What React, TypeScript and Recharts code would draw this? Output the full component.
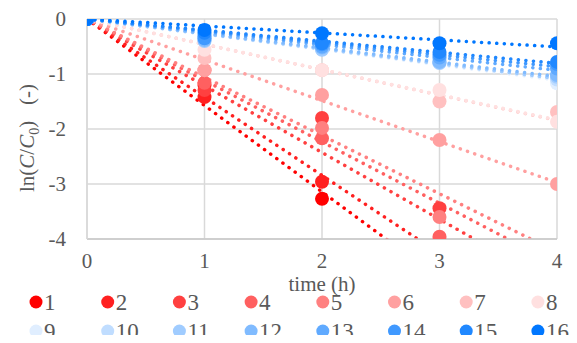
import { CartesianGrid, Legend, Line, LineChart, XAxis, YAxis, Label } from "recharts";

const TIMES = [0, 1, 2, 3, 4];

const S1 = [0, -1.2, -3.27, -4.6, -6.4];
const S2 = [0, -1.42, -2.96, -4.3, -5.6];
const S3 = [0, -1.29, -1.8, -3.44, -5.3];
const S4 = [0, -1.16, -2.17, -3.96, -4.03];
const S5 = [0, -0.93, -1.98, -3.6, -4.02];
const S6 = [0, -0.93, -1.38, -2.2, -3.0];
const S7 = [0, -0.71, -0.93, -1.5, -1.69];
const S8 = [0, -0.56, -0.93, -1.29, -1.87];
const S9 = [0, -0.3, -0.5, -0.78, -1.17];
const S10 = [0, -0.35, -0.55, -0.75, -1.1];
const S11 = [0, -0.4, -0.56, -0.8, -1.05];
const S12 = [0, -0.38, -0.52, -0.78, -1.02];
const S13 = [0, -0.3, -0.5, -0.7, -0.9];
const S14 = [0, -0.35, -0.46, -0.65, -0.82];
const S15 = [0, -0.25, -0.44, -0.6, -0.78];
const S16 = [0, -0.2, -0.26, -0.44, -0.44];

const SERIES = [S1, S2, S3, S4, S5, S6, S7, S8, S9, S10, S11, S12, S13, S14, S15, S16];
const NAMES = ["1", "2", "3", "4", "5", "6", "7", "8", "9", "10", "11", "12", "13", "14", "15", "16"];
const COLORS = [
  "#FF0000", "#FF2020", "#FF4040", "#FF6060", "#FF8080", "#FFA0A0", "#FFC0C0", "#FFE0E0",
  "#E0EEFF", "#C0DDFF", "#A0CCFF", "#80BBFF", "#60AAFF", "#4099FF", "#2088FF", "#0077FF",
];
const Y_TICKS = [0, -1, -2, -3, -4];

const FONT = "Liberation Serif";
const TEXT = "#595959";

// linear trend through the origin (least squares)
const slopes = SERIES.map((s) => {
  const num = TIMES.reduce((a, t, i) => a + t * s[i], 0);
  const den = TIMES.reduce((a, t) => a + t * t, 0);
  return num / den;
});

const data = TIMES.map((t, i) => {
  const row: Record<string, number> = { t };
  SERIES.forEach((s, k) => {
    row[`p${k}`] = s[i];
    row[`f${k}`] = slopes[k] * t;
  });
  return row;
});

const renderDot = (color: string) => (props: any) => {
  const { cx, cy, value, index } = props;
  if (value < -4 || cx == null || cy == null) return <g key={`d-${index}`} />;
  return <circle key={`d-${index}`} cx={cx} cy={cy} r={7} fill={color} />;
};

const XTick = (props: any) => {
  const { x, y, payload } = props;
  return (
    <text x={x} y={y + 15} textAnchor="middle" fontFamily={FONT} fontSize={21} fill={TEXT}>
      {payload.value}
    </text>
  );
};

const YTick = (props: any) => {
  const { x, y, payload } = props;
  return (
    <text x={x} y={y + 7} textAnchor="end" fontFamily={FONT} fontSize={21} fill={TEXT}>
      {payload.value}
    </text>
  );
};

const LegendContent = () => (
  <svg width={577} height={60} style={{ display: "block" }}>
    {NAMES.map((name, i) => {
      const col = i % 8;
      const row = Math.floor(i / 8);
      const cx = 36 + col * 71.7;
      const cy = 19 + row * 29;
      return (
        <g key={name}>
          <circle cx={cx} cy={cy} r={6.5} fill={COLORS[i]} />
          <text x={cx + 8} y={cy + 8} fontFamily={FONT} fontSize={23} fill={TEXT}>
            {name}
          </text>
        </g>
      );
    })}
  </svg>
);

const YLabel = () => (
  <text
    transform="translate(34,138) rotate(-90)"
    textAnchor="middle"
    fontFamily={FONT}
    fontSize={21}
    fill={TEXT}
  >
    ln(<tspan fontStyle="italic">C</tspan>/<tspan fontStyle="italic">C</tspan>
    <tspan fontSize={14} dy={5}>0</tspan>
    <tspan dy={-5}>{")\u00A0\u00A0\u00A0(-)"}</tspan>
  </text>
);

const XLabel = () => (
  <text x={322} y={291} textAnchor="middle" fontFamily={FONT} fontSize={21} fill={TEXT}>
    time (h)
  </text>
);

export default function App() {
  return (
    <div style={{ margin: -8 }}>
      <LineChart
        width={577}
        height={343}
        data={data}
        margin={{ top: 19, right: 20, left: 27, bottom: 0 }}
      >
        <CartesianGrid stroke="#d9d9d9" strokeWidth={1.5} />
        <XAxis
          dataKey="t"
          type="number"
          domain={[0, 4]}
          ticks={TIMES}
          height={44}
          axisLine={{ stroke: "#c8c8c8", strokeWidth: 1.5 }}
          tickLine={false}
          tickSize={0}
          tickMargin={14}
          tick={<XTick />}
          allowDataOverflow
        >
          <Label content={<XLabel />} />
        </XAxis>
        <YAxis
          type="number"
          domain={[-4, 0]}
          ticks={Y_TICKS}
          width={60}
          axisLine={{ stroke: "#d9d9d9", strokeWidth: 1.5 }}
          tickLine={false}
          tickSize={0}
          tickMargin={21}
          tick={<YTick />}
          allowDataOverflow
        >
          <Label content={<YLabel />} />
        </YAxis>
        <Legend verticalAlign="bottom" content={<LegendContent />} wrapperStyle={{ left: 0, width: 577, height: 60 }} />
        {SERIES.map((_, k) => (
          <Line
            key={`p${k}`}
            dataKey={`p${k}`}
            stroke="none"
            dot={renderDot(COLORS[k])}
            activeDot={false}
            isAnimationActive={false}
            legendType="none"
          />
        ))}
        {SERIES.map((_, k) => (
          <Line
            key={`f${k}`}
            dataKey={`f${k}`}
            stroke={COLORS[k]}
            strokeWidth={3.5}
            strokeDasharray="0.1 7.5"
            strokeLinecap="round"
            dot={false}
            activeDot={false}
            isAnimationActive={false}
            legendType="none"
          />
        ))}
      </LineChart>
    </div>
  );
}
